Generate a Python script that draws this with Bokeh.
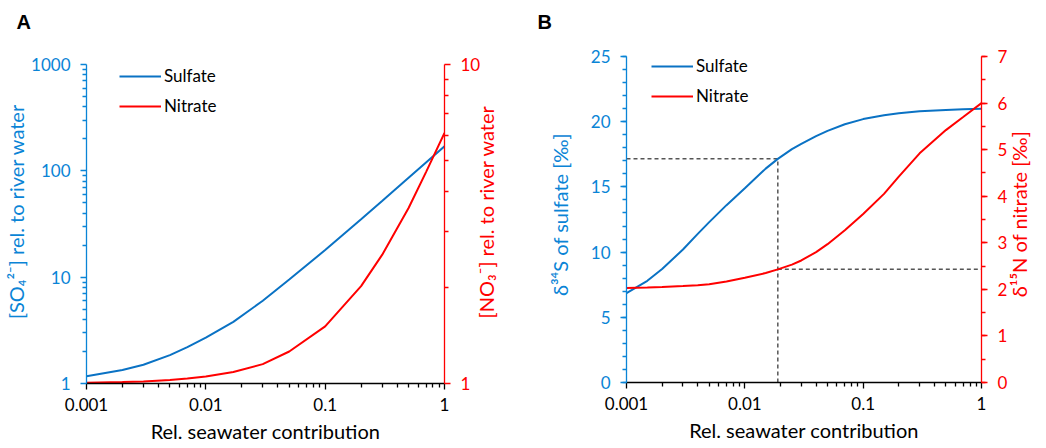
import math
from bokeh.plotting import figure
from bokeh.models import (Range1d, LogScale, LogAxis, LinearAxis, FixedTicker,
                          Legend, LegendItem, Title)
from bokeh.layouts import row, column
from bokeh.embed import file_html
from bokeh.resources import INLINE

FONT = "Lato"
AX_BLUE = "#0A84D6"
LINE_BLUE = "#0A72C4"
RED = "#FF0000"
GUIDE = "#555555"

# ---------------- Panel A data ----------------
frac_a = [0.001, 0.002, 0.003, 0.005, 0.007, 0.01, 0.017, 0.03, 0.05, 0.1, 0.2, 0.3, 0.5, 0.7, 1.0]
sulfate_conc = [1.17, 1.34, 1.5, 1.85, 2.2, 2.7, 3.8, 6.0, 9.5, 18, 35, 52, 86, 120, 170]
nitrate_conc = [1.005, 1.01, 1.015, 1.026, 1.036, 1.051, 1.087, 1.15, 1.26, 1.51, 2.02, 2.53, 3.55, 4.6, 6.1]

# ---------------- Panel B data ----------------
frac_b = [0.001, 0.0015, 0.002, 0.003, 0.004, 0.005, 0.007, 0.01, 0.015, 0.019, 0.025,
          0.03, 0.04, 0.05, 0.07, 0.1, 0.15, 0.2, 0.3, 0.5, 0.7, 1.0]
sulfate_d34s = [6.85, 7.8, 8.7, 10.2, 11.4, 12.3, 13.6, 14.9, 16.4, 17.15, 17.9,
                18.3, 18.9, 19.3, 19.8, 20.2, 20.5, 20.65, 20.8, 20.9, 20.95, 21.0]
nitrate_d15n = [2.03, 2.04, 2.05, 2.07, 2.09, 2.11, 2.17, 2.25, 2.35, 2.43, 2.53,
                2.62, 2.8, 2.97, 3.27, 3.62, 4.05, 4.42, 4.92, 5.42, 5.7, 6.0]

# guide (dashed) lines in panel B
guide_frac = 0.019
guide_d34s = 17.15
guide_d15n = 2.43

# ticks
x_major = [0.001, 0.01, 0.1, 1.0]
x_labels = ["0.001", "0.01", "0.1", "1"]
x_minor = [m * d for d in [0.001, 0.01, 0.1] for m in range(2, 10)]
a_left_major = [1, 10, 100, 1000]
a_left_labels = ["1", "10", "100", "1000"]
a_left_minor = [m * d for d in [1, 10, 100] for m in range(2, 10)]
a_right_major = [1, 10]
a_right_labels = ["1", "10"]
a_right_minor = list(range(2, 10))
b_left_major = [0, 5, 10, 15, 20, 25]
b_left_minor = list(range(0, 26))
b_right_major = [0, 1, 2, 3, 4, 5, 6, 7]
b_right_minor = [i * 0.5 for i in range(0, 15)]

TICK_FONT = "17px"
TITLE_FONT = "20px"
EM = "\u2003"
EN = "\u2002"
NB = "\u00a0"


def style_axis(ax, color, major, minor, labels=None, label_standoff=10):
    ax.ticker = FixedTicker(ticks=major, minor_ticks=minor)
    if labels is not None:
        ax.major_label_overrides = {t: l for t, l in zip(major, labels)}
    ax.axis_line_color = color
    ax.axis_line_width = 1.3
    ax.major_tick_line_color = color
    ax.minor_tick_line_color = color
    ax.major_tick_line_width = 1.3
    ax.minor_tick_line_width = 1.3
    ax.major_tick_in = 0
    ax.major_tick_out = 6
    ax.minor_tick_in = 0
    ax.minor_tick_out = 4
    ax.major_label_text_color = color
    ax.major_label_text_font = FONT
    ax.major_label_text_font_size = TICK_FONT
    ax.major_label_standoff = label_standoff
    ax.axis_label_text_color = color
    ax.axis_label_text_font = FONT
    ax.axis_label_text_font_size = TITLE_FONT
    ax.axis_label_text_font_style = "normal"


def base_fig(width, height, bl, br, bt, bb, y_type, letter, offset, gap):
    p = figure(width=width, height=height, x_axis_type="log", y_axis_type=y_type,
               output_backend="svg", toolbar_location=None, title_location=None,
               min_border_left=bl, min_border_right=br, min_border_top=bt, min_border_bottom=bb)
    p.xgrid.visible = False
    p.ygrid.visible = False
    p.outline_line_color = None
    p.background_fill_color = None
    p.border_fill_color = None
    # invisible spacer title (closest to the frame), then the panel letter
    p.add_layout(Title(text=" ", text_font_size="1px", standoff=gap), "above")
    p.add_layout(Title(text=letter, align="left", vertical_align="top", offset=offset,
                       standoff=6, text_font="Liberation Sans", text_font_style="bold",
                       text_font_size="20px", text_color="black"), "above")
    return p


# ---------------- Panel A ----------------
pa = base_fig(520, 448, 86, 76, 64, 65, "log", "A", -70, 24)
pa.x_range = Range1d(0.001, 1.0)
pa.y_range = Range1d(1, 1000)
pa.extra_y_ranges = {"n": Range1d(1, 10)}
pa.extra_y_scales = {"n": LogScale()}

sa = pa.line(frac_a, sulfate_conc, line_color=LINE_BLUE, line_width=2)
na = pa.line(frac_a, nitrate_conc, line_color=RED, line_width=2, y_range_name="n")

style_axis(pa.xaxis[0], "black", x_major, x_minor, x_labels, 8)
pa.xaxis[0].axis_label = "Rel. seawater contribution"
pa.xaxis[0].axis_label_standoff = 5
style_axis(pa.yaxis[0], AX_BLUE, a_left_major, a_left_minor, a_left_labels)
pa.yaxis[0].axis_label = EM + EN + "[SO\u2084\u00b2\u207b] rel. to river water"
pa.yaxis[0].axis_label_standoff = 0

ra = LogAxis(y_range_name="n")
style_axis(ra, RED, a_right_major, a_right_minor, a_right_labels)
ra.axis_label = EM * 4 + NB + "[NO\u2083\u207b] rel. to river water"
ra.axis_label_orientation = math.pi / 2
ra.axis_label_align = "start"
ra.axis_label_standoff = 3
pa.add_layout(ra, "right")

leg_a = Legend(items=[LegendItem(label="Sulfate", renderers=[sa]),
                      LegendItem(label="Nitrate", renderers=[na])],
               location=(33, 267))
pa.add_layout(leg_a, "center")

# ---------------- Panel B ----------------
pb = base_fig(526, 448, 106, 64, 56, 66, "linear", "B", -89, 16)
pb.x_range = Range1d(0.001, 1.0)
pb.y_range = Range1d(0, 25)
pb.extra_y_ranges = {"n": Range1d(0, 7)}

# dashed guides
pb.segment(x0=[frac_b[0]], y0=[guide_d34s], x1=[guide_frac], y1=[guide_d34s],
           line_color=GUIDE, line_width=1.5, line_dash="4 3")
pb.segment(x0=[guide_frac], y0=[0], x1=[guide_frac], y1=[guide_d34s],
           line_color=GUIDE, line_width=1.5, line_dash="4 3")
pb.segment(x0=[guide_frac], y0=[guide_d15n], x1=[frac_b[-1]], y1=[guide_d15n],
           line_color=GUIDE, line_width=1.5, line_dash="4 3", y_range_name="n")

sb = pb.line(frac_b, sulfate_d34s, line_color=LINE_BLUE, line_width=2)
nb = pb.line(frac_b, nitrate_d15n, line_color=RED, line_width=2, y_range_name="n")

style_axis(pb.xaxis[0], "black", x_major, x_minor, x_labels, 8)
pb.xaxis[0].axis_label = "Rel. seawater contribution"
pb.xaxis[0].axis_label_standoff = 5
style_axis(pb.yaxis[0], AX_BLUE, b_left_major, b_left_minor)
pb.yaxis[0].axis_label = EN + "\u03b4\u00b3\u2074S of sulfate [\u2030]"
pb.yaxis[0].axis_label_standoff = 16

rb = LinearAxis(y_range_name="n")
style_axis(rb, RED, b_right_major, b_right_minor)
rb.axis_label = EM * 5 + NB + NB + "\u03b4\u00b9\u2075N of nitrate [\u2030]"
rb.axis_label_orientation = math.pi / 2
rb.axis_label_align = "start"
rb.axis_label_standoff = 9
pb.add_layout(rb, "right")

leg_b = Legend(items=[LegendItem(label="Sulfate", renderers=[sb]),
                      LegendItem(label="Nitrate", renderers=[nb])],
               location=(25, 276))
pb.add_layout(leg_b, "center")

for lg in (leg_a, leg_b):
    lg.border_line_color = None
    lg.background_fill_alpha = 0
    lg.padding = 0
    lg.margin = 0
    lg.spacing = 9
    lg.glyph_width = 42
    lg.glyph_height = 20
    lg.label_standoff = 3
    lg.label_text_font = FONT
    lg.label_text_font_size = "17px"
    lg.label_text_color = "black"

layout = row(column(pa), column(pb), spacing=0)
open("out.html", "w").write(file_html(layout, INLINE))
